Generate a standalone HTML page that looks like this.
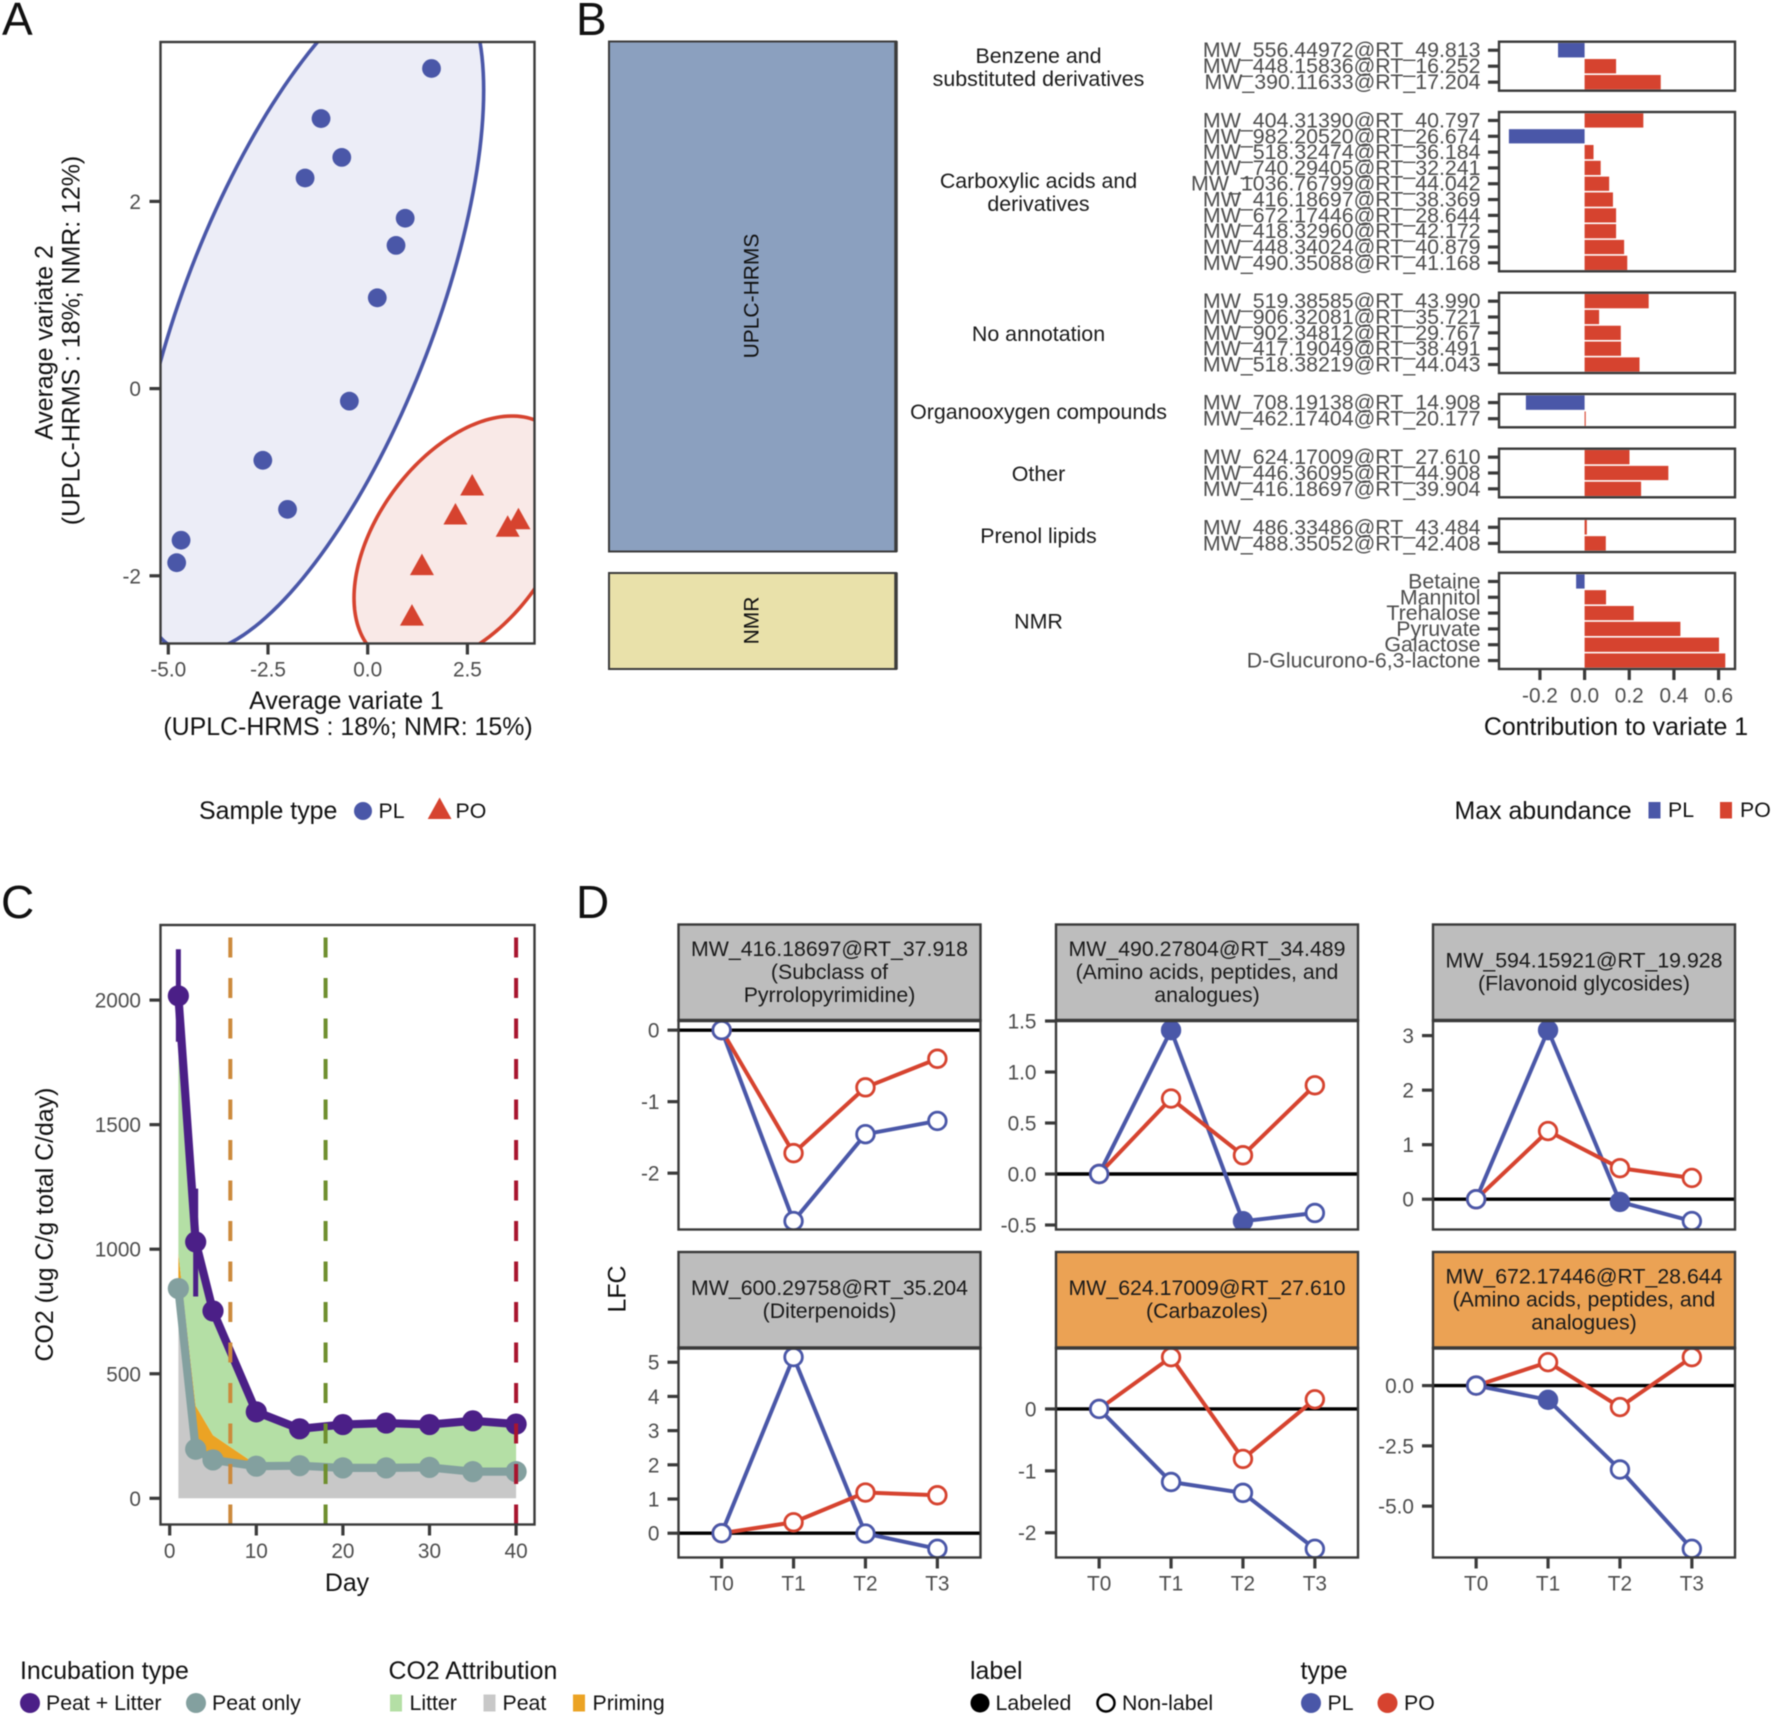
<!DOCTYPE html>
<html lang="en">
<head>
<meta charset="utf-8">
<title>Multi-panel metabolomics figure</title>
<style>
html,body{margin:0;padding:0;background:#fff}
svg{display:block;filter:blur(0.4px)}
text{font-family:"Liberation Sans",Arial,sans-serif;dominant-baseline:central;fill:#111}
.tick{font-size:20.8px;fill:#4d4d4d}
.bartick{font-size:21.35px;fill:#4d4d4d}
.title{font-size:24.9px;fill:#111}
.leg{font-size:21.3px;fill:#111}
.letter{font-size:46px;fill:#111}
.cls{font-size:21.4px;fill:#1a1a1a;text-anchor:middle}
.strip{font-size:21.3px;fill:#1a1a1a;text-anchor:middle}
.mid{text-anchor:middle}
.end{text-anchor:end}
</style>
</head>
<body>
<svg id="fig" xmlns="http://www.w3.org/2000/svg" width="1772" height="1717" viewBox="0 0 1772 1717">
<rect width="1772" height="1717" fill="#fff"/>
<defs id="defs"></defs>

<text class="letter" x="2" y="19">A</text>
<text class="letter" x="576" y="19">B</text>
<text class="letter" x="1" y="902">C</text>
<text class="letter" x="576" y="902">D</text>

<g id="panelA"></g>
<text class="title mid" x="346.5" y="701">Average variate 1</text>
<text class="title mid" x="348" y="727">(UPLC-HRMS : 18%; NMR: 15%)</text>
<text class="title mid" transform="translate(44.5 342.5) rotate(-90)">Average variate 2</text>
<text class="title mid" transform="translate(71.5 340.5) rotate(-90)">(UPLC-HRMS : 18%; NMR: 12%)</text>

<g>
<text class="title" x="199" y="811">Sample type</text>
<circle cx="363" cy="811" r="9" fill="#4a57a8"/>
<text class="leg" x="378.5" y="811">PL</text>
<polygon points="439.6,797.5 451.5,819 427.7,819" fill="#d6432f"/>
<text class="leg" x="455.5" y="811">PO</text>
</g>

<g>
<rect x="609" y="41.5" width="287" height="510" fill="#8ba0bf" stroke="#3c3c3c" stroke-width="2"/>
<line x1="896" x2="896" y1="41" y2="552" stroke="#3c3c3c" stroke-width="3.5"/>
<text class="mid" style="font-size:21px" transform="translate(752 296) rotate(-90)">UPLC-HRMS</text>
<rect x="609" y="573" width="287" height="96" fill="#e9e1aa" stroke="#3c3c3c" stroke-width="2"/>
<line x1="896" x2="896" y1="572.5" y2="669.5" stroke="#3c3c3c" stroke-width="3.5"/>
<text class="mid" style="font-size:21px" transform="translate(752 620.5) rotate(-90)">NMR</text>
</g>

<g>
<text class="cls" x="1038.5" y="56">Benzene and</text>
<text class="cls" x="1038.5" y="79">substituted derivatives</text>
<text class="cls" x="1038.5" y="181">Carboxylic acids and</text>
<text class="cls" x="1038.5" y="204">derivatives</text>
<text class="cls" x="1038.5" y="334">No annotation</text>
<text class="cls" x="1038.5" y="412">Organooxygen compounds</text>
<text class="cls" x="1038.5" y="474">Other</text>
<text class="cls" x="1038.5" y="536">Prenol lipids</text>
<text class="cls" x="1038.5" y="621.5">NMR</text>
</g>

<g id="panelB"></g>
<text class="title mid" x="1616" y="727">Contribution to variate 1</text>

<g>
<text class="title" x="1454.5" y="811">Max abundance</text>
<rect x="1648.5" y="802" width="12" height="16.5" fill="#4a57a8"/>
<text class="leg" x="1668" y="810">PL</text>
<rect x="1720" y="802" width="12" height="16.5" fill="#d6432f"/>
<text class="leg" x="1740" y="810">PO</text>
</g>

<g id="panelC"></g>
<text class="title mid" x="347" y="1583">Day</text>
<text class="title mid" transform="translate(45 1224.5) rotate(-90)">CO2 (ug C/g total C/day)</text>

<g>
<text class="title" x="20" y="1671">Incubation type</text>
<circle cx="30" cy="1703" r="10" fill="#4b1f87"/>
<text class="leg" x="46" y="1703">Peat + Litter</text>
<circle cx="196" cy="1703" r="10" fill="#83a09f"/>
<text class="leg" x="212" y="1703">Peat only</text>
</g>
<g>
<text class="title" x="388.5" y="1671">CO2 Attribution</text>
<rect x="390" y="1694.5" width="12" height="17" fill="#b4dfa5"/>
<text class="leg" x="409.5" y="1703">Litter</text>
<rect x="483.5" y="1694.5" width="12" height="17" fill="#c8c8c8"/>
<text class="leg" x="502.5" y="1703">Peat</text>
<rect x="573" y="1694.5" width="12" height="17" fill="#eba324"/>
<text class="leg" x="592.5" y="1703">Priming</text>
</g>

<g id="panelD"></g>
<text class="title mid" transform="translate(617.5 1289) rotate(-90)">LFC</text>

<g>
<text class="title" x="970" y="1671">label</text>
<circle cx="980" cy="1703" r="9.5" fill="#000"/>
<text class="leg" x="995.5" y="1703">Labeled</text>
<circle cx="1106" cy="1703" r="8.5" fill="#fff" stroke="#000" stroke-width="2.5"/>
<text class="leg" x="1122" y="1703">Non-label</text>
</g>
<g>
<text class="title" x="1300.5" y="1671">type</text>
<circle cx="1311" cy="1703" r="10" fill="#4a57a8"/>
<text class="leg" x="1327.5" y="1703">PL</text>
<circle cx="1387.5" cy="1703" r="10" fill="#d6432f"/>
<text class="leg" x="1404" y="1703">PO</text>
</g>
</svg>

<script>
// ---------- Panel A data ----------
const plScoreX = [1.60,-1.17,-0.65,-1.57,0.94,0.71,0.24,-0.46,-2.63,-2.01,-4.68,-4.79];
const plScoreY = [3.42,2.885,2.47,2.25,1.82,1.53,0.97,-0.134,-0.766,-1.29,-1.62,-1.86];
const poScoreX = [2.62,2.20,3.51,3.78,1.36,1.11];
const poScoreY = [-1.03,-1.34,-1.47,-1.39,-1.88,-2.42];
const plEllipseCenter = [-1.482,0.818];
const plEllipseSpread = [4.39,3.643];
const plEllipseCorrelation = 0.65;
const poEllipseCenter = [2.39,-1.634];
const poEllipseSpread = [2.733,1.341];
const poEllipseCorrelation = 0.45;
const aXTicks = [-5,-2.5,0,2.5];
const aXTickLabels = ['-5.0','-2.5','0.0','2.5'];
const aYTicks = [-2,0,2];
const aYTickLabels = ['-2','0','2'];

// ---------- Panel B data ----------
const barLabels = [
 ['MW_556.44972@RT_49.813','MW_448.15836@RT_16.252','MW_390.11633@RT_17.204'],
 ['MW_404.31390@RT_40.797','MW_982.20520@RT_26.674','MW_518.32474@RT_36.184','MW_740.29405@RT_32.241','MW_1036.76799@RT_44.042','MW_416.18697@RT_38.369','MW_672.17446@RT_28.644','MW_418.32960@RT_42.172','MW_448.34024@RT_40.879','MW_490.35088@RT_41.168'],
 ['MW_519.38585@RT_43.990','MW_906.32081@RT_35.721','MW_902.34812@RT_29.767','MW_417.19049@RT_38.491','MW_518.38219@RT_44.043'],
 ['MW_708.19138@RT_14.908','MW_462.17404@RT_20.177'],
 ['MW_624.17009@RT_27.610','MW_446.36095@RT_44.908','MW_416.18697@RT_39.904'],
 ['MW_486.33486@RT_43.484','MW_488.35052@RT_42.408'],
 ['Betaine','Mannitol','Trehalose','Pyruvate','Galactose','D-Glucurono-6,3-lactone']
];
const barValues = [
 [-0.119,0.141,0.341],
 [0.263,-0.339,0.04,0.072,0.11,0.127,0.141,0.141,0.177,0.191],
 [0.287,0.065,0.162,0.163,0.246],
 [-0.263,0.005],
 [0.201,0.375,0.253],
 [0.01,0.095],
 [-0.038,0.096,0.22,0.429,0.602,0.63]
];
const bXTicks = [-0.2,0,0.2,0.4,0.6];
const bXTickLabels = ['-0.2','0.0','0.2','0.4','0.6'];

// ---------- Panel C data ----------
const days = [1,3,5,10,15,20,25,30,35,40];
const peatLitter = [2017,1029,752,347,279,296,302,296,311,298];
const peatOnly = [842,197,154,129,131,122,122,124,107,107];
const primingTop = [982,371,253,135,131,122,122,124,112,112];
const errDays = [1,3];
const errLow = [1833,810];
const errHigh = [2204,1243];
const phaseDays = [7,18,40];
const cXTicks = [0,10,20,30,40];
const cXTickLabels = ['0','10','20','30','40'];
const cYTicks = [0,500,1000,1500,2000];
const cYTickLabels = ['0','500','1000','1500','2000'];

// ---------- Panel D data ----------
const timeLabels = ['T0','T1','T2','T3'];
const lfcPL = [
 [0,-2.67,-1.455,-1.27],
 [0,1.41,-0.463,-0.382],
 [0,3.10,-0.05,-0.40],
 [0,5.15,-0.01,-0.456],
 [0,-1.18,-1.356,-2.26],
 [0,-0.59,-3.48,-6.77]
];
const lfcPO = [
 [0,-1.72,-0.80,-0.40],
 [0,0.74,0.184,0.87],
 [0,1.25,0.57,0.39],
 [0,0.32,1.19,1.11],
 [0,0.837,-0.807,0.156],
 [0,0.97,-0.89,1.18]
];
const labeledPL = [
 [0,0,0,0],
 [0,1,1,0],
 [0,1,1,0],
 [0,0,0,0],
 [0,0,0,0],
 [0,1,0,0]
];
const lfcDomains = [[-2.788,0.135],[-0.544,1.505],[-0.555,3.277],[-0.710,5.416],[-2.4,0.985],[-7.13,1.559]];
const lfcTicks = [[-2,-1,0],[-0.5,0,0.5,1,1.5],[0,1,2,3],[0,1,2,3,4,5],[-2,-1,0],[-5,-2.5,0]];
const lfcTickLabels = [['-2','-1','0'],['-0.5','0.0','0.5','1.0','1.5'],['0','1','2','3'],['0','1','2','3','4','5'],['-2','-1','0'],['-5.0','-2.5','0.0']];
const stripLines = [
 ['MW_416.18697@RT_37.918','(Subclass of','Pyrrolopyrimidine)'],
 ['MW_490.27804@RT_34.489','(Amino acids, peptides, and','analogues)'],
 ['MW_594.15921@RT_19.928','(Flavonoid glycosides)'],
 ['MW_600.29758@RT_35.204','(Diterpenoids)'],
 ['MW_624.17009@RT_27.610','(Carbazoles)'],
 ['MW_672.17446@RT_28.644','(Amino acids, peptides, and','analogues)']
];
const stripHighlighted = [0,0,0,0,1,1];

// ---------- helpers ----------
const NS = 'http://www.w3.org/2000/svg';
const BLUE = '#4a57a8', RED = '#d6432f', INK = '#3a3a3a';
function mk(tag, attrs, parent){
  const n = document.createElementNS(NS, tag);
  for (const k in attrs) n.setAttribute(k, attrs[k]);
  parent.appendChild(n);
  return n;
}
function clipFor(id, x, y, w, h){
  const c = mk('clipPath', {id:id}, document.getElementById('defs'));
  mk('rect', {x:x, y:y, width:w, height:h}, c);
}
function yTick(parent, px, left, label, labelRight, cls){
  const t = mk('line', {x1:left-11, x2:left, y1:px, y2:px, stroke:INK, 'stroke-width':3.2}, parent);
  
  
  const l = mk('text', {x:labelRight, y:px+(cls?0:1), class:(cls||'tick')+' end'}, parent);
  l.textContent = label;
  
  
}
function xTick(parent, px, bottom, label, labelY){
  const t = mk('line', {x1:px, x2:px, y1:bottom, y2:bottom+11, stroke:INK, 'stroke-width':3.2}, parent);
  
  
  const l = mk('text', {x:px, y:labelY, class:'tick mid'}, parent);
  l.textContent = label;
  
  
}
function frame(parent, x, y, w, h){
  const f = mk('rect', {x:x, y:y, width:w, height:h, fill:'none', stroke:INK, 'stroke-width':2.4}, parent);
  
  
}

// ---------- Panel A ----------
(function(){
  const g = document.getElementById('panelA');
  const L = 160.5, R = 534.5, T = 42, B = 643.5;
  const sx = v => 367.7 + v*39.88;
  const sy = v => 388.6 - v*93.6;
  clipFor('clipA', L, T, R-L, B-T);
  const inner = mk('g', {'clip-path':'url(#clipA)'}, g);
  function ell(center, spread, rho, fill, stroke, nm){
    let d = '';
    const q = Math.sqrt(1 - rho*rho);
    for (let i = 0; i <= 180; i++){
      const t = i/180*2*Math.PI;
      const x = center[0] + spread[0]*Math.cos(t);
      const y = center[1] + spread[1]*(rho*Math.cos(t) + q*Math.sin(t));
      d += (i ? 'L' : 'M') + sx(x).toFixed(2) + ' ' + sy(y).toFixed(2);
    }
    const p = mk('path', {d:d+'Z', fill:fill, stroke:stroke, 'stroke-width':3.6}, inner);
    
    
  }
  ell(plEllipseCenter, plEllipseSpread, plEllipseCorrelation, '#ecedf7', BLUE, 'pl-ellipse');
  ell(poEllipseCenter, poEllipseSpread, poEllipseCorrelation, '#f9e9e7', RED, 'po-ellipse');
  plScoreX.forEach((v,i)=>{
    const c = mk('circle', {cx:sx(v), cy:sy(plScoreY[i]), r:9.4, fill:BLUE}, inner);
    
    
  });
  poScoreX.forEach((v,i)=>{
    const x = sx(v), y = sy(poScoreY[i]);
    const c = mk('polygon', {points:`${x},${y-11} ${x+12},${y+10.5} ${x-12},${y+10.5}`, fill:RED}, inner);
    
    
  });
  frame(g, L, T, R-L, B-T);
  aXTicks.forEach((v,i)=>xTick(g, sx(v), B, aXTickLabels[i], 670));
  aYTicks.forEach((v,i)=>yTick(g, sy(v), L, aYTickLabels[i], 141));
})();

// ---------- Panel B ----------
(function(){
  const g = document.getElementById('panelB');
  const L = 1499, R = 1735;
  const tops = [41.7,112,292.7,394,448.7,518.7,573];
  const bottoms = [90.7,271.3,373,427.3,497.3,552,669];
  const sx = v => 1584.6 + v*223.3;
  barValues.forEach((vals,p)=>{
    const T = tops[p], H = bottoms[p]-T;
    const step = H/(vals.length+0.07);
    vals.forEach((v,i)=>{
      const cy = T + step*(i+0.535);
      const b = mk('rect', {x:Math.min(sx(0),sx(v)), y:cy-step*0.45, width:Math.abs(sx(v)-sx(0)), height:step*0.9, fill:v<0?BLUE:RED}, g);
      
      
      yTick(g, cy, L, barLabels[p][i], 1480.5, 'bartick');
    });
    frame(g, L, T, R-L, H);
  });
  bXTicks.forEach((v,i)=>xTick(g, sx(v), 669, bXTickLabels[i], 696));
})();

// ---------- Panel C ----------
(function(){
  const g = document.getElementById('panelC');
  const L = 160.5, R = 534.5, T = 925, B = 1524.5;
  const sx = v => 169.7 + v*8.66;
  const sy = v => 1498.3 - v*0.2491;
  function band(lo, hi, fill, nm){
    let d = '';
    days.forEach((x,i)=>{ d += (i?'L':'M') + sx(x).toFixed(2) + ' ' + sy(hi[i]).toFixed(2); });
    for (let i = days.length-1; i >= 0; i--){ d += 'L' + sx(days[i]).toFixed(2) + ' ' + sy(lo[i]).toFixed(2); }
    const p = mk('path', {d:d+'Z', fill:fill}, g);
    
    
  }
  const zeros = days.map(()=>0);
  band(zeros, peatOnly, '#c8c8c8', 'peat-area');
  band(peatOnly, primingTop, '#eba324', 'priming-area');
  band(primingTop, peatLitter, '#b4dfa5', 'litter-area');
  function series(vals, color, nm){
    const d = vals.map((v,i)=>(i?'L':'M')+sx(days[i]).toFixed(2)+' '+sy(v).toFixed(2)).join('');
    const p = mk('path', {d:d, fill:'none', stroke:color, 'stroke-width':8.2, 'stroke-linejoin':'round'}, g);
    
    
    vals.forEach((v,i)=>{
      const c = mk('circle', {cx:sx(days[i]), cy:sy(v), r:10.6, fill:color}, g);
      
      
    });
  }
  errDays.forEach((d,i)=>{
    const e = mk('line', {x1:sx(d), x2:sx(d), y1:sy(errLow[i]), y2:sy(errHigh[i]), stroke:'#4b1f87', 'stroke-width':5}, g);
    
    
  });
  series(peatLitter, '#4b1f87', 'peat-litter');
  series(peatOnly, '#83a09f', 'peat-only');
  const phaseColors = ['#cc8a3c','#6f8f2e','#a8152f'];
  phaseDays.forEach((d,i)=>{
    const l = mk('line', {x1:sx(d), x2:sx(d), y1:B, y2:T, stroke:phaseColors[i], 'stroke-width':4, 'stroke-dasharray':'20 20.5'}, g);
    
    
  });
  frame(g, L, T, R-L, B-T);
  cXTicks.forEach((v,i)=>xTick(g, sx(v), B, cXTickLabels[i], 1551.5));
  cYTicks.forEach((v,i)=>yTick(g, sy(v), L, cYTickLabels[i], 141));
})();

// ---------- Panel D ----------
(function(){
  const g = document.getElementById('panelD');
  const lefts = [678.5,1056,1433];
  const W = 302;
  const stripTops = [924.5,1252];
  const panelTops = [1020.5,1348];
  const panelBottoms = [1229.5,1557.5];
  const tickRights = [659.5,1036.5,1414];
  lfcPL.forEach((pl,idx)=>{
    const col = idx%3, row = Math.floor(idx/3);
    const L = lefts[col], T = panelTops[row], B = panelBottoms[row];
    const dom = lfcDomains[idx];
    const sy = v => B - (v-dom[0])/(dom[1]-dom[0])*(B-T);
    const sx = i => L + W*(i+0.6)/4.2;
    const st = mk('rect', {x:L, y:stripTops[row], width:W, height:T-stripTops[row], fill:stripHighlighted[idx]?'#eba254':'#bdbdbd', stroke:INK, 'stroke-width':2.4}, g);
    
    
    const lines = stripLines[idx];
    const midY = (stripTops[row]+T)/2;
    lines.forEach((s,k)=>{
      const t = mk('text', {x:L+W/2, y:midY + (k-(lines.length-1)/2)*23 - 0.3, class:'strip'}, g);
      t.textContent = s;
      
      
    });
    const pan = mk('rect', {x:L, y:T, width:W, height:B-T, fill:'#fff'}, g);
    
    
    clipFor('clipD'+idx, L, T, W, B-T);
    const inner = mk('g', {'clip-path':'url(#clipD'+idx+')'}, g);
    const z = mk('line', {x1:L, x2:L+W, y1:sy(0), y2:sy(0), stroke:'#000', 'stroke-width':3.4}, inner);
    
    
    const po = lfcPO[idx];
    const lp = s => s.map((v,i)=>(i?'L':'M')+sx(i).toFixed(2)+' '+sy(v).toFixed(2)).join('');
    const l1 = mk('path', {d:lp(pl), fill:'none', stroke:BLUE, 'stroke-width':4}, inner);
    
    
    const l2 = mk('path', {d:lp(po), fill:'none', stroke:RED, 'stroke-width':4}, inner);
    
    
    po.forEach((v,i)=>{
      const c = mk('circle', {cx:sx(i), cy:sy(v), r:8.8, fill:'#fff', stroke:RED, 'stroke-width':2.8}, inner);
      
      
    });
    pl.forEach((v,i)=>{
      const on = labeledPL[idx][i];
      const c = mk('circle', {cx:sx(i), cy:sy(v), r:8.8, fill:on?BLUE:'#fff', stroke:BLUE, 'stroke-width':2.8}, inner);
      
      
    });
    frame(g, L, T, W, B-T);
    const sep = mk('line', {x1:L, x2:L+W, y1:T, y2:T, stroke:INK, 'stroke-width':3.6}, g);
    
    
    lfcTicks[idx].forEach((v,i)=>yTick(g, sy(v), L, lfcTickLabels[idx][i], tickRights[col]));
    if (row === 1) timeLabels.forEach((s,i)=>xTick(g, sx(i), B, s, 1584));
  });
})();
</script>
</body>
</html>
